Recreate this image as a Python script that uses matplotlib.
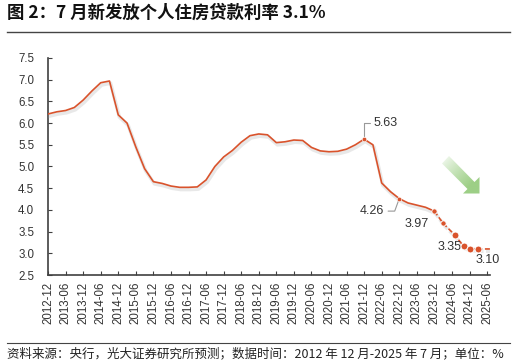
import numpy as np
import pandas as pd
import matplotlib.pyplot as plt
import matplotlib.patheffects as pe
from matplotlib.patches import Polygon
from matplotlib.lines import Line2D

plt.rcParams['font.family'] = ['Liberation Sans', 'Noto Sans CJK SC']

# Data, quarterly up to 2023-12
solid_dates = [str(p) for p in pd.period_range('2012-12', '2023-12', freq='M')[::3]]
solid_vals = [6.21, 6.26, 6.29, 6.36, 6.53, 6.74, 6.93, 6.97, 6.19, 6.00,
              5.45, 4.95, 4.65, 4.61, 4.55, 4.52, 4.52, 4.53, 4.69, 5.00,
              5.22, 5.37, 5.56, 5.71, 5.75, 5.73, 5.55, 5.57, 5.61, 5.60,
              5.44, 5.36, 5.34, 5.35, 5.40, 5.50, 5.63, 5.50, 4.62, 4.42,
              4.26, 4.16, 4.11, 4.06, 3.97]
# recent months, drawn dashed with dots
recent_dates = ['2023-12', '2024-03', '2024-07', '2024-10', '2024-12', '2025-03', '2025-07']
recent_vals = [3.97, 3.69, 3.42, 3.16, 3.11, 3.10, 3.10]

tick_labels = [str(p) for p in pd.period_range('2012-12', '2025-06', freq='M')[::6]]

# labelled points: date, value, text
label_dates = ['2021-12', '2022-12', '2023-12', '2024-10', '2025-07']
label_vals = [5.63, 4.26, 3.97, 3.16, 3.10]
label_text = ['5.63', '4.26', '3.97', '3.35', '3.10']

start = pd.Period('2012-12', 'M')


def mon(s):
    return (pd.Period(s, 'M') - start).n


red = '#d9532c'
grey = '#404040'

fig = plt.figure(figsize=(5.16, 3.64), dpi=100)
ax = fig.add_axes([48 / 516, 1 - 275 / 364, 442 / 516, 217 / 364])

shadow = [pe.SimpleLineShadow(offset=(0.8, -1.6), shadow_color='#9a9a9a', alpha=0.22,
                              linewidth=2.6),
          pe.Normal()]

xs = [mon(d) for d in solid_dates]
ax.plot(xs, solid_vals, color=red, lw=1.2, path_effects=shadow, zorder=3,
        solid_joinstyle='round')

xr = [mon(d) for d in recent_dates]
ax.plot(xr, recent_vals, color=red, lw=1.2, ls=(0, (3, 1.5)), path_effects=shadow, zorder=3)
ax.plot(xr[:2], recent_vals[:2], 'o', color=red, ms=3.8, mec='white', mew=0.6, zorder=4)
ax.plot(xr[2:-1], recent_vals[2:-1], 'o', color=red, ms=5, mec='white', mew=0.7, zorder=4)
ax.plot([mon(d) for d in label_dates[:2]], label_vals[:2], 'o', color=red, ms=3.2,
        mec='white', mew=0.4, zorder=4)

lbl = dict(fontsize=9, color='#333333')
leader = dict(arrowstyle='-', color='#999999', lw=0.8, shrinkA=1, shrinkB=2)
ax.annotate(label_text[0], (mon(label_dates[0]), label_vals[0]), xytext=(7, 11.5),
            textcoords='offset points', ha='left', va='center',
            arrowprops=dict(connectionstyle='angle,angleA=0,angleB=90,rad=0',
                            relpos=(0, 0.5), **leader), **lbl)
ax.annotate(label_text[1], (mon(label_dates[1]), label_vals[1]), xytext=(-11, -9),
            textcoords='offset points', ha='right', va='center',
            arrowprops=dict(connectionstyle='angle,angleA=0,angleB=70,rad=0',
                            relpos=(1, 0.5), **leader), **lbl)
ax.annotate(label_text[2], (mon(label_dates[2]), label_vals[2]), xytext=(-4, -9.5),
            textcoords='offset points', ha='right', va='center', **lbl)
ax.annotate(label_text[3], (mon(label_dates[3]), label_vals[3]), xytext=(-1.5, -0.5),
            textcoords='offset points', ha='right', va='center', **lbl)
ax.annotate(label_text[4], (mon(label_dates[4]), label_vals[4]), xytext=(-1.5, -8),
            textcoords='offset points', ha='center', va='center', **lbl)

ax.set_xlim(0, 151)
ax.set_ylim(2.5, 7.5)
ax.set_yticks(np.arange(2.5, 7.51, 0.5))
ax.set_yticklabels([f'{v:.1f}' for v in np.arange(2.5, 7.51, 0.5)])
ax.set_xticks([mon(t) for t in tick_labels])
ax.set_xticklabels(tick_labels, rotation=90)
for s in ['top', 'right']:
    ax.spines[s].set_visible(False)
for s in ['left', 'bottom']:
    ax.spines[s].set_color(grey)
    ax.spines[s].set_linewidth(1.2)
ax.tick_params(axis='y', direction='in', length=3, pad=10, labelsize=8.3,
               colors=grey, labelcolor='#333333')
ax.tick_params(axis='x', direction='in', length=3, pad=5, labelsize=8.3,
               colors=grey, labelcolor='#333333')
ax.patch.set_alpha(0)

# gradient arrow, drawn in pixel space
ov = fig.add_axes([0, 0, 1, 1], zorder=-1)
ov.set_xlim(0, 516)
ov.set_ylim(364, 0)
ov.axis('off')
arrow = Polygon([(449, 156), (474.5, 182), (479.5, 177), (479.5, 193.5),
                 (463, 193.5), (467.5, 189), (442, 163.5)],
                closed=True, fc='none', ec='none')
ov.add_patch(arrow)
gx, gy = np.meshgrid(np.linspace(440, 481, 120), np.linspace(154, 195, 120))
t = np.clip(((gx - 441) + (gy - 156)) / 58, 0, 1)
img = np.zeros(gx.shape + (4,))
img[..., 0], img[..., 1], img[..., 2] = 0x9d / 255, 0xcf / 255, 0x86 / 255
img[..., 3] = t ** 0.8
im = ov.imshow(img, extent=(440, 481, 195, 154), origin='upper', interpolation='bilinear')
im.set_clip_path(arrow)

# title, rules and source
fig.text(7 / 516, 1 - 13 / 364, '图 2：7 月新发放个人住房贷款利率 3.1%', fontsize=12.5,
         fontweight='bold', family=['Noto Sans CJK SC'], va='center', color='#111111')
fig.add_artist(Line2D([7 / 516, 510 / 516], [1 - 32 / 364] * 2, color='#444444', lw=1))
fig.add_artist(Line2D([7 / 516, 510 / 516], [1 - 343 / 364] * 2, color='#444444', lw=0.8))
fig.text(7 / 516, 1 - 354 / 364,
         '资料来源：央行，光大证券研究所预测；数据时间：2012 年 12 月-2025 年 7 月；单位：%',
         fontsize=9, family=['Noto Sans CJK SC'], va='center', color='#222222')

fig.savefig('out.png', dpi=100)
